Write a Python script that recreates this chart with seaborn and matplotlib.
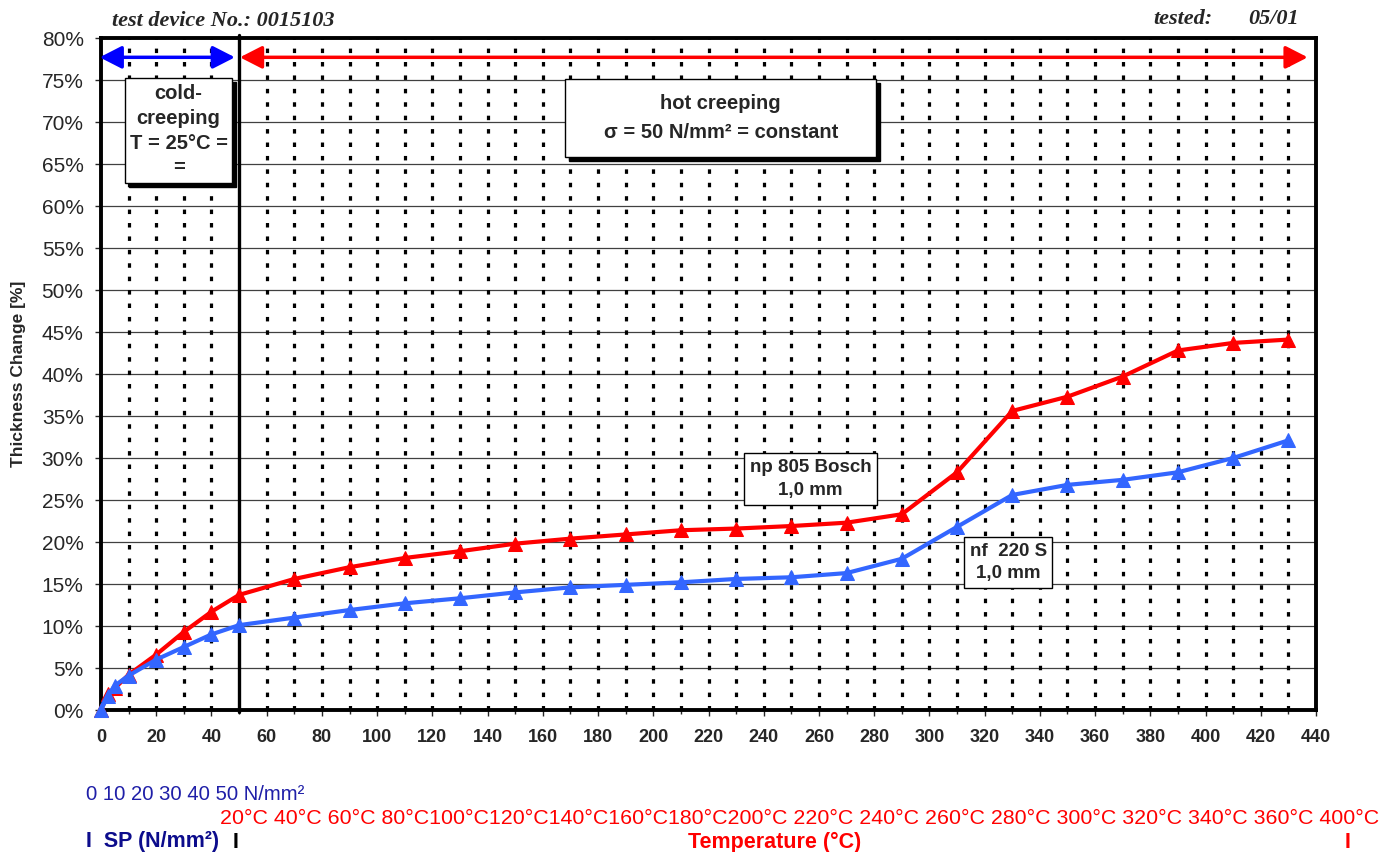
import matplotlib
matplotlib.use("Agg")
import matplotlib.pyplot as plt
import matplotlib.transforms as mtransforms
from matplotlib.patches import Rectangle
import seaborn as sns

# --- data ---
x_red = [0, 2.5, 5, 10, 20, 30, 40, 50, 70, 90, 110, 130, 150, 170, 190, 210,
         230, 250, 270, 290, 310, 330, 350, 370, 390, 410, 430]
y_red = [0, 1.9, 2.6, 4.2, 6.6, 9.3, 11.7, 13.7, 15.6, 17.0, 18.1, 18.9, 19.8, 20.4,
         20.9, 21.4, 21.6, 21.9, 22.3, 23.3, 28.3, 35.6, 37.3, 39.7, 42.8, 43.7, 44.1]
x_blue = x_red
y_blue = [0, 1.7, 2.9, 4.1, 6.0, 7.5, 9.0, 10.1, 11.0, 11.9, 12.7, 13.3, 14.0, 14.6,
          14.9, 15.2, 15.6, 15.8, 16.3, 18.0, 21.8, 25.6, 26.8, 27.4, 28.3, 30.0, 32.1]

x_ticks = list(range(0, 441, 20))
x_minor = list(range(10, 431, 20))
y_ticks = list(range(0, 81, 5))
dotted_x = [v for v in range(10, 431, 10) if v != 50]

sp_text = "0 10 20 30 40 50 N/mm²"
temp_text = ("20°C 40°C 60°C 80°C100°C120°C140°C160°C180°C200°C 220°C 240°C "
             "260°C 280°C 300°C 320°C 340°C 360°C 400°C")

sns.set_style("white")
plt.rcParams['font.family'] = ['Liberation Sans', 'DejaVu Sans']

W, H = 1394, 852
fig = plt.figure(figsize=(W / 100, H / 100), dpi=100)
ax = fig.add_axes([101 / W, 1 - 710 / H, 1215 / W, 672 / H])


def px(x, y):
    # pixel position -> figure fraction
    return x / W, 1 - y / H


# grid
for v in y_ticks[1:-1]:
    ax.axhline(v, color="#404040", lw=0.9, zorder=1)
for v in dotted_x:
    ax.axvline(v, color="black", lw=2.3, ls=(0, (1.4, 2.8)), zorder=1)
ax.axvline(50, ymin=-0.003, ymax=1.005, color="black", lw=2.4, zorder=2, clip_on=False)

# series
sns.lineplot(x=x_red, y=y_red, ax=ax, color="#ff0000", lw=3, marker="^",
             markersize=10.5, markeredgecolor="#ff0000", zorder=3, clip_on=False)
sns.lineplot(x=x_blue, y=y_blue, ax=ax, color="#3366ff", lw=3, marker="^",
             markersize=10.5, markeredgecolor="#3366ff", zorder=4, clip_on=False)

ax.set_xlim(0, 440)
ax.set_ylim(0, 80)
ax.set_xticks(x_ticks)
ax.set_xticks(x_minor, minor=True)
ax.set_xticklabels([str(v) for v in x_ticks], fontweight="bold", fontsize=13)
ax.set_yticks(y_ticks)
ax.set_yticklabels([f"{v}%" for v in y_ticks], fontsize=15)
ax.tick_params(axis="x", which="major", direction="out", length=4, width=1, pad=10, bottom=True)
ax.tick_params(axis="x", which="minor", direction="out", length=3, width=1, bottom=True)
ax.tick_params(axis="y", direction="out", length=4.5, width=1, pad=8, left=True)
for s in ax.spines.values():
    s.set_linewidth(2.8)
    s.set_color("black")
ax.set_ylabel("Thickness Change [%]", fontweight="bold", fontsize=12.5)
ax.yaxis.set_label_coords((26 - 101) / 1215, 0.5)

# arrows
arrow = dict(arrowstyle="<|-|>,head_length=0.45,head_width=0.23", lw=2.5,
             mutation_scale=30, shrinkA=0, shrinkB=0)
ax.annotate("", xy=(-0.5, 77.7), xytext=(48.5, 77.7), annotation_clip=False,
            arrowprops=dict(color="#0000ff", **arrow), zorder=5)
ax.annotate("", xy=(50.3, 77.7), xytext=(437, 77.7), annotation_clip=False,
            arrowprops=dict(color="#ff0000", **arrow), zorder=5)

# boxes
shadow = ax.transData + mtransforms.ScaledTranslation(4 / 100, -4 / 100, fig.dpi_scale_trans)


def box(x0, x1, y0, y1, text, size, spacing, with_shadow=True):
    if with_shadow:
        ax.add_patch(Rectangle((x0, y0), x1 - x0, y1 - y0, facecolor="black",
                               edgecolor="black", transform=shadow, zorder=6))
    ax.add_patch(Rectangle((x0, y0), x1 - x0, y1 - y0, facecolor="white",
                           edgecolor="black", lw=1, zorder=7))
    ax.text((x0 + x1) / 2, (y0 + y1) / 2, text, ha="center", va="center",
            fontweight="bold", fontsize=size, linespacing=spacing, zorder=8)


box(8.7, 47.5, 62.7, 75.2, "cold-\ncreeping\nT = 25°C =\n=", 14.5, 1.38)
box(168.1, 280.7, 65.8, 75.1, "hot creeping\nσ = 50 N/mm² = constant", 14.5, 1.65)
box(233, 281, 24.4, 30.6, "np 805 Bosch\n1,0 mm", 13.5, 1.42, with_shadow=False)
box(312.6, 344.4, 14.5, 20.6, "nf  220 S\n1,0 mm", 13.5, 1.38, with_shadow=False)

# header texts
fig.text(*px(112, 21), "test device No.: 0015103", family="Liberation Serif",
         fontstyle="italic", fontweight="bold", fontsize=16, va="center")
fig.text(*px(1153, 19), "tested:", family="Liberation Serif",
         fontstyle="italic", fontweight="bold", fontsize=16, va="center")
fig.text(*px(1248, 19), "05/01", family="Liberation Serif",
         fontstyle="italic", fontweight="bold", fontsize=16, va="center")

# bottom scale texts
fig.text(*px(86, 795), sp_text, color="#1f1fa8", fontsize=14.6, va="center")
fig.text(*px(220, 818), temp_text, color="#ff0000", fontsize=15.4, va="center")
fig.text(*px(86, 842), "I  SP (N/mm²)", color="#0c0c8c", fontsize=15.5,
         fontweight="bold", va="center")
fig.text(*px(233, 842), "I", color="black", fontsize=15.5, fontweight="bold", va="center")
fig.text(*px(775, 842), "Temperature (°C)", color="#ff0000", fontsize=15.5,
         fontweight="bold", va="center", ha="center")
fig.text(*px(1345, 842), "I", color="#ff0000", fontsize=15.5, fontweight="bold", va="center")

fig.savefig("out.png", dpi=100)
